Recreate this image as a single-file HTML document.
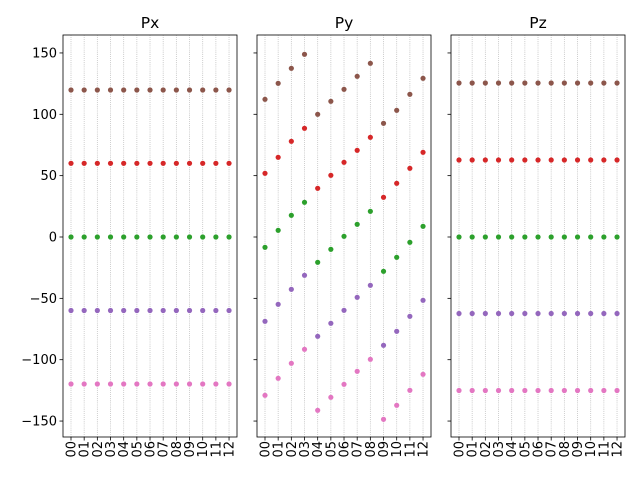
<!DOCTYPE html>
<html><head><style>body{margin:0;background:#fff}svg{display:block}</style></head>
<body>
<svg id="s" width="640" height="480" xmlns="http://www.w3.org/2000/svg" font-family="'DejaVu Sans','Liberation Sans',sans-serif"></svg>
<script>
const s=document.getElementById('s');let h='';
const Y=v=>237-v*1.227;
const panels=[{x0:63,x1:237,t:'Px',ylab:true},{x0:257,x1:431,t:'Py'},{x0:451,x1:625,t:'Pz'}];
const cols=['#8c564b','#d62728','#2ca02c','#9467bd','#e377c2'];
const pyY=[
[99.3,83.3,68.3,54.3,114.3,101.3,89.3,76.3,63.3,123.3,110.3,94.3,78.3],
[173.3,157.3,141.3,128.3,188.3,175.3,162.3,150.3,137.3,197.3,183.3,168.3,152.3],
[247.3,230.3,215.3,202.3,262.3,249.3,236.3,224.3,211.3,271.3,257.3,242.3,226.3],
[321.3,304.3,289.3,275.3,336.3,323.3,310.3,297.3,285.3,345.3,331.3,316.3,300.3],
[395.3,378.3,363.3,349.3,410.3,397.3,384.3,371.3,359.3,419.3,405.3,390.3,374.3]];
const pxY=[90,163.3,237,310.5,384], pzY=[83,160,237,313.5,390.5];
panels.forEach((p,pi)=>{
  const xs=i=>p.x0+8+i*13.17;
  for(let i=0;i<13;i++){const x=xs(i);
    h+=`<line x1="${x}" y1="35" x2="${x}" y2="437" stroke="#b0b0b0" stroke-width="0.8" stroke-dasharray="0.8,1.3"/>`;
    h+=`<line x1="${x}" y1="437" x2="${x}" y2="440.5" stroke="#000" stroke-width="0.8"/>`;
    h+=`<text transform="translate(${x+4.5},441) rotate(-90)" text-anchor="end" font-size="13">${String(i).padStart(2,'0')}</text>`;
  }
  for(let v=-150;v<=150;v+=50){const y=Y(v);
    h+=`<line x1="${p.x0-3.5}" y1="${y}" x2="${p.x0}" y2="${y}" stroke="#000" stroke-width="0.8"/>`;
    if(p.ylab)h+=`<text x="${p.x0-6}" y="${y+4.5}" text-anchor="end" font-size="13">${v<0?'\u2212'+(-v):v}</text>`;
  }
  for(let c=0;c<5;c++)for(let i=0;i<13;i++){
    const y=pi==0?pxY[c]:pi==1?pyY[c][i]:pzY[c];
    h+=`<circle cx="${xs(i)}" cy="${y}" r="2.6" fill="${cols[c]}"/>`;
  }
  h+=`<rect x="${p.x0}" y="35" width="${p.x1-p.x0}" height="402" fill="none" stroke="#000" stroke-width="0.8"/>`;
  h+=`<text x="${(p.x0+p.x1)/2}" y="28" text-anchor="middle" font-size="15.5">${p.t}</text>`;
});
s.innerHTML=h;
</script>
</body></html>
